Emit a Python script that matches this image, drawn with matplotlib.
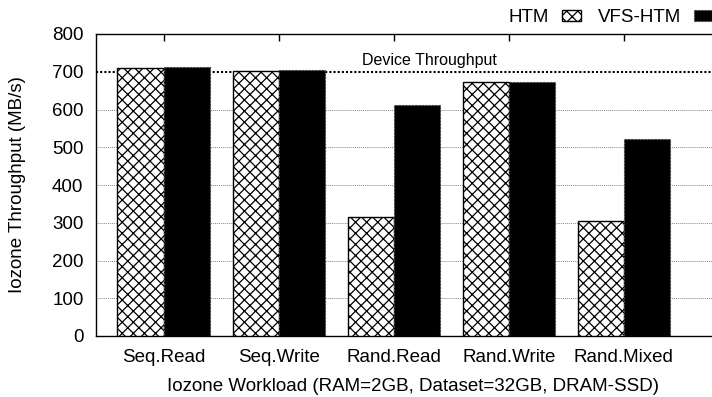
import matplotlib
matplotlib.use("Agg")
import matplotlib.pyplot as plt
import matplotlib.transforms as mtransforms
import numpy as np

plt.rcParams['font.family'] = ['Liberation Sans', 'DejaVu Sans']
plt.rcParams['hatch.linewidth'] = 0.9

workloads = ["Seq.Read", "Seq.Write", "Rand.Read", "Rand.Write", "Rand.Mixed"]
htm = [711, 701, 315, 672, 305]
vfs_htm = [712, 704, 613, 672, 521]
device_throughput = 700
yticks = [0, 100, 200, 300, 400, 500, 600, 700, 800]

W, H = 712, 397
fig = plt.figure(figsize=(W / 100, H / 100), dpi=100)
left_px, right_px, top_px, bottom_px = 96, 730, 34, 336
ax = fig.add_axes([left_px / W, 1 - bottom_px / H,
                   (right_px - left_px) / W, (bottom_px - top_px) / H])

x = np.arange(len(workloads))
w = 0.4
ax.bar(x - w / 2, htm, w, facecolor="white", edgecolor="black", hatch="xxx",
       linewidth=1.0, label="HTM", zorder=3)
ax.bar(x + w / 2, vfs_htm, w, facecolor="black", edgecolor="#444444",
       linewidth=0.8, linestyle=(0, (2, 1)), label="VFS-HTM", zorder=3)

# 115.1 px between groups, first group centred at x=163.5 px
px_per_unit = 115.1
ax.set_xlim(-(163.5 - left_px) / px_per_unit, (right_px - 163.5) / px_per_unit)
ax.set_ylim(0, 800)
ax.set_yticks(yticks)
ax.set_xticks(x)
ax.set_xticklabels(workloads, fontsize=13.5)
ax.tick_params(axis="y", labelsize=13.5, length=0, pad=9)
ax.tick_params(axis="x", bottom=False, top=True, labelbottom=True, labeltop=False,
               direction="in", length=5, width=1, pad=9)

for yv in yticks[1:-1]:
    if yv != device_throughput:
        ax.axhline(yv, color="#888888", linestyle=(0, (1, 1)), linewidth=0.7, zorder=1)

ax.axhline(device_throughput, color="black", linestyle=(0, (1, 1)), linewidth=1.5, zorder=2)
ax.text(429, device_throughput + 9, "Device Throughput", fontsize=11.5,
        ha="center", va="bottom",
        transform=mtransforms.blended_transform_factory(
            mtransforms.IdentityTransform(), ax.transData))

for s in ["left", "bottom", "top"]:
    ax.spines[s].set_linewidth(1.0)
ax.spines["right"].set_visible(False)

ax.set_ylabel("Iozone Throughput (MB/s)", fontsize=13.5, labelpad=19)
ax.set_xlabel("Iozone Workload (RAM=2GB, Dataset=32GB, DRAM-SSD)", fontsize=13.5, labelpad=9)

fig.legend(loc="upper right", bbox_to_anchor=(1.02, 1.01), ncol=2, markerfirst=False,
           frameon=False, fontsize=13.5, handlelength=1.0, handleheight=0.55,
           handletextpad=0.7, columnspacing=0.9, borderaxespad=0.3)

fig.savefig("out.png", dpi=100)
